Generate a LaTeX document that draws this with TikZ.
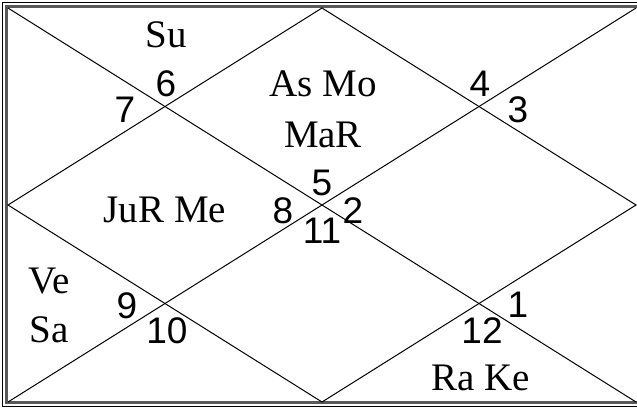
\documentclass[tikz,border=0pt]{standalone}
\usepackage{fontspec}
\setmainfont{Liberation Serif}
\newfontfamily\bhavafont{Liberation Sans}
\usetikzlibrary{positioning,calc}
\tikzset{
  graha/.style={
    font=\fontsize{39}{46}\selectfont,
    anchor=base,
    inner sep=0pt},
  bhava/.style={
    font=\bhavafont\fontsize{37}{44}\selectfont,
    anchor=base,
    inner sep=0pt},
  rekha/.style = {draw=black,line width=1pt},
}
\begin{document}
\begin{tikzpicture}[x=1pt,y=-1pt]
  \useasboundingbox (0,0) rectangle (637,410);
  % frame
  \draw[black,line width=1pt] (2,2) rectangle (660,406);
  \draw[black!65,line width=3pt] (6.5,6.5) rectangle (660,402.5);
  % chart corners and midpoints
  \coordinate (nw) at (8,8);
  \coordinate (ne) at (636,8);
  \coordinate (sw) at (8,402);
  \coordinate (se) at (636,402);
  \coordinate (n) at (322,8);
  \coordinate (s) at (322,402);
  \coordinate (w) at (8,205);
  \coordinate (e) at (636,205);
  \draw[rekha] (nw) -- (se);
  \draw[rekha] (ne) -- (sw);
  \draw[rekha] (n) -- (e) -- (s) -- (w) -- cycle;
  % house numbers
  \node[bhava](h6) at (166,96) {6};
  \node[bhava](h7) at (125,122) {7};
  \node[bhava](h4) at (480,96) {4};
  \node[bhava](h3) at (518,122) {3};
  \node[bhava](h5) at (322,195) {5};
  \node[bhava](h8) at (283,223) {8};
  \node[bhava](h2) at (353,223) {2};
  \node[bhava](h11) at (322,243) {11};
  \node[bhava](h9) at (127,318) {9};
  \node[bhava](h10) at (167,343) {10};
  \node[bhava](h1) at (518,317) {1};
  \node[bhava](h12) at (482,343) {12};
  % planets
  \node[graha](su) at (166,47) {Su};
  \node[graha](as_mo) at (323,96) {As Mo};
  \node[graha](mar) at (323,147) {MaR};
  \node[graha](jur_me) at (165,222) {JuR Me};
  \node[graha](ve) at (49,293) {Ve};
  \node[graha](sa) at (49,342) {Sa};
  \node[graha](ra_ke) at (481,390) {Ra Ke};
\end{tikzpicture}
\end{document}
